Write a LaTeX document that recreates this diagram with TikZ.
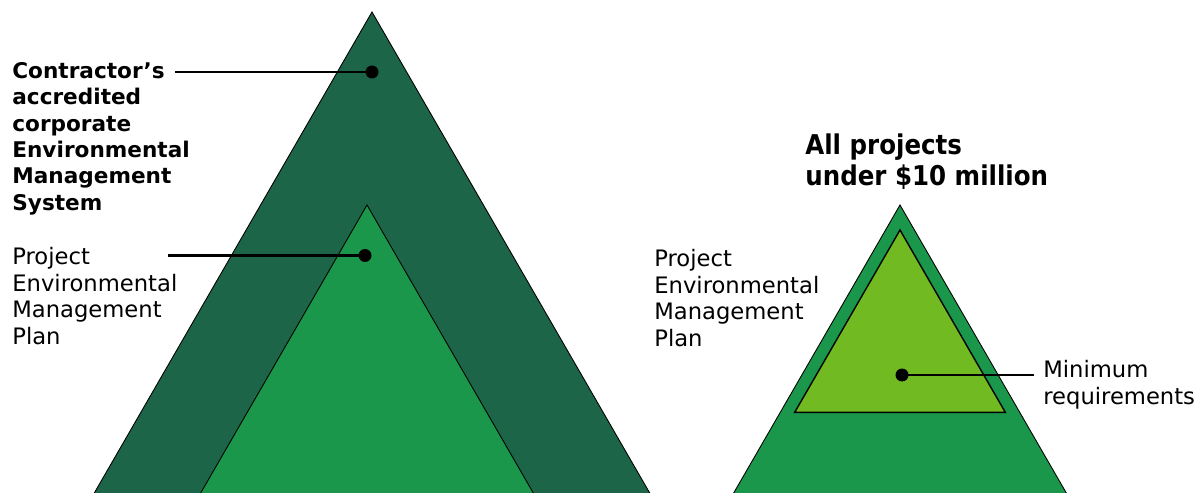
\documentclass[tikz,border=0pt]{standalone}
\usepackage{fontspec}
\setmainfont{DejaVu Sans}
\newfontfamily\headfont[FakeStretch=0.9]{DejaVu Sans}
\usetikzlibrary{positioning}

\definecolor{darkgreen}{HTML}{1D6548}
\definecolor{midgreen}{HTML}{1A974B}
\definecolor{limegreen}{HTML}{72BA22}

\begin{document}
\begin{tikzpicture}[
    x=0.02cm, y=-0.02cm,
    layer/.style={
        draw=black,
        line width=0.5pt,
        line join=miter
    },
    boldlabel/.style={
        anchor=north west,
        inner sep=0pt,
        align=left,
        font=\fontsize{12.3}{15}\selectfont\bfseries
    },
    label text/.style={
        anchor=north west,
        inner sep=0pt,
        align=left,
        font=\fontsize{12.9}{15.2}\selectfont
    },
    headline/.style={
        anchor=north west,
        inner sep=0pt,
        align=left,
        font=\headfont\fontsize{15.5}{18}\selectfont\bfseries
    },
    spot/.style={
        circle,
        fill=black,
        inner sep=0pt,
        minimum size=0.26cm
    },
    pointer/.style={
        line width=1.5pt
    }
]

\useasboundingbox (0,0) rectangle (1198,493);

\begin{scope}
\clip (0,0) rectangle (1198,493);

% Left pyramid: corporate system around the project plan
\draw [layer, fill=darkgreen] (372,12) -- (665.3,520) -- (78.7,520) -- cycle;
\draw [layer, fill=midgreen]  (367,205) -- (548.9,520) -- (185.1,520) -- cycle;

% Right pyramid: project plan around the minimum requirements
\draw [layer, fill=midgreen]  (900,205) -- (1081.9,520) -- (718.1,520) -- cycle;
\draw [layer, fill=limegreen, line width=0.8pt] (900,230) -- (1005.3,412.3) -- (794.7,412.3) -- cycle;
\end{scope}

% Labels
\node (systext)   at (12,62)    [boldlabel]  {Contractor’s\\accredited\\corporate\\Environmental\\Management\\System};
\node (plantext)  at (12,247)   [label text] {Project\\Environmental\\Management\\Plan};
\node (smalltext) at (805,133)  [headline]   {All projects\\under \$10 million};
\node (plantextb) at (654,249)  [label text] {Project\\Environmental\\Management\\Plan};
\node (mintext)   at (1043,360) [label text] {Minimum\\requirements};

% Dots and their leader lines
\node (sysdot)  at (372,72)    [spot] {};
\node (plandot) at (365,255.5) [spot] {};
\node (mindot)  at (902,375)   [spot] {};

\coordinate (sysend)  at (175,72);
\coordinate (planend) at (168,255.5);
\coordinate (minend)  at (1034,375);

\draw [pointer] (sysend)  -- (sysdot.center);
\draw [pointer] (planend) -- (plandot.center);
\draw [pointer] (minend)  -- (mindot.center);

\end{tikzpicture}
\end{document}
